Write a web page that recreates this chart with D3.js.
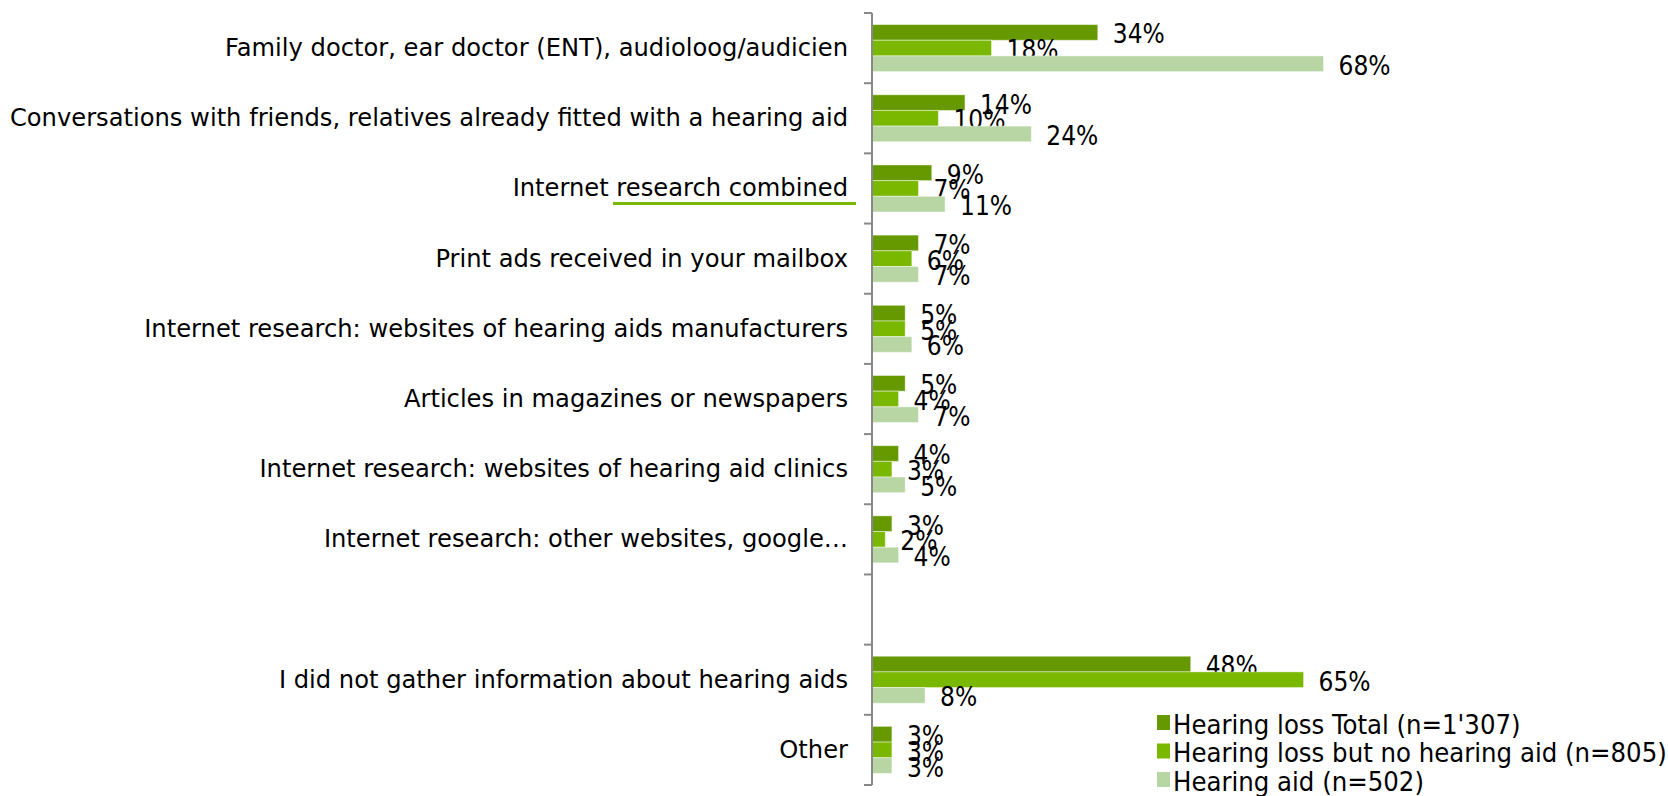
<!DOCTYPE html>
<html>
<head>
<meta charset="utf-8">
<script src="https://cdn.jsdelivr.net/npm/d3@7"></script>
<style>
  html, body { margin: 0; padding: 0; background: #fff; }
  svg { display: block; }
</style>
</head>
<body>
<script>
const categories = [
  "Family doctor, ear doctor (ENT), audioloog/audicien",
  "Conversations with friends, relatives already fitted with a hearing aid",
  "Internet research combined",
  "Print ads received in your mailbox",
  "Internet research: websites of hearing aids manufacturers",
  "Articles in magazines or newspapers",
  "Internet research: websites of hearing aid clinics",
  "Internet research: other websites, google…",
  "",
  "I did not gather information about hearing aids",
  "Other"
];
const seriesNames = [
  "Hearing loss Total (n=1'307)",
  "Hearing loss but no hearing aid (n=805)",
  "Hearing aid (n=502)"
];
const seriesColors = ["#669900", "#7ab800", "#b8d5a4"];
const totalValues   = [34, 14, 9, 7, 5, 5, 4, 3, null, 48, 3];
const noAidValues   = [18, 10, 7, 6, 5, 4, 3, 2, null, 65, 3];
const aidValues     = [68, 24, 11, 7, 6, 7, 5, 4, null, 8, 3];
const seriesValues = [totalValues, noAidValues, aidValues];

const width = 1668, height = 796;
const axisX = 872;

const svg = d3.select("body").append("svg")
  .attr("width", width)
  .attr("height", height)
  .style("font-family", "'DejaVu Sans', Verdana, sans-serif");

const x = d3.scaleLinear().domain([0, 100]).range([axisX, axisX + 664]);
const y = d3.scaleBand().domain(d3.range(categories.length)).range([13, 785]).paddingInner(0);
const ySub = d3.scaleBand().domain(d3.range(seriesNames.length))
  .range([y.bandwidth() * 0.165, y.bandwidth() * 0.835]);

// bars
const groups = svg.append("g").selectAll("g")
  .data(categories.map((c, i) => i))
  .join("g")
  .attr("transform", i => `translate(0,${y(i)})`);

const bars = groups.selectAll("g.bar")
  .data(i => seriesValues.map((vals, s) => ({ s, v: vals[i] })).filter(d => d.v != null))
  .join("g").attr("class", "bar");

bars.append("rect")
  .attr("x", x(0))
  .attr("y", d => ySub(d.s))
  .attr("width", d => x(d.v) - x(0))
  .attr("height", ySub.bandwidth())
  .attr("fill", d => seriesColors[d.s])
  .attr("stroke", "#ffffff")
  .attr("stroke-opacity", 0.45)
  .attr("stroke-width", 1);

bars.append("text")
  .attr("x", d => x(d.v) + 15)
  .attr("y", d => ySub(d.s) + ySub.bandwidth() / 2 + 2)
  .attr("dominant-baseline", "central")
  .style("font-family", "'DejaVu Sans Condensed', 'DejaVu Sans', sans-serif")
  .style("font-stretch", "condensed")
  .style("font-size", "26px")
  .attr("fill", "#000")
  .text(d => d.v + "%");

// axis line and ticks
const ax = svg.append("g").attr("transform", `translate(${axisX},0)`);
ax.append("line")
  .attr("y1", y.range()[0]).attr("y2", y.range()[1])
  .attr("stroke", "#888").attr("stroke-width", 2);
ax.selectAll("line.tick")
  .data(d3.range(categories.length + 1))
  .join("line").attr("class", "tick")
  .attr("x1", -8).attr("x2", 0)
  .attr("y1", i => y.range()[0] + i * y.step())
  .attr("y2", i => y.range()[0] + i * y.step())
  .attr("stroke", "#888").attr("stroke-width", 2);

ax.selectAll("text.cat")
  .data(categories.map((c, i) => i))
  .join("text").attr("class", "cat")
  .attr("x", -24)
  .attr("y", i => y(i) + y.bandwidth() / 2)
  .attr("text-anchor", "end")
  .attr("dominant-baseline", "central")
  .style("font-size", "24.2px")
  .attr("fill", "#000")
  .text(i => categories[i]);

// green underline under "Internet research combined"
const irc = categories.indexOf("Internet research combined");
svg.append("line")
  .attr("x1", 613).attr("x2", 856)
  .attr("y1", y(irc) + y.bandwidth() / 2 + 15)
  .attr("y2", y(irc) + y.bandwidth() / 2 + 15)
  .attr("stroke", "#7ab800").attr("stroke-width", 3);

// legend
const legend = svg.append("g").attr("transform", "translate(1157,723)");
const li = legend.selectAll("g")
  .data(seriesNames.map((n, i) => i))
  .join("g")
  .attr("transform", i => `translate(0,${i * 28.5})`);
li.append("rect")
  .attr("x", 0).attr("y", -8)
  .attr("width", 13).attr("height", 15)
  .attr("fill", i => seriesColors[i]);
li.append("text")
  .attr("x", 16).attr("y", 1)
  .attr("dominant-baseline", "central")
  .style("font-family", "'DejaVu Sans Condensed', 'DejaVu Sans', sans-serif")
  .style("font-stretch", "condensed")
  .style("font-size", "27.2px")
  .attr("fill", "#000")
  .text(i => seriesNames[i]);
</script>
</body>
</html>
